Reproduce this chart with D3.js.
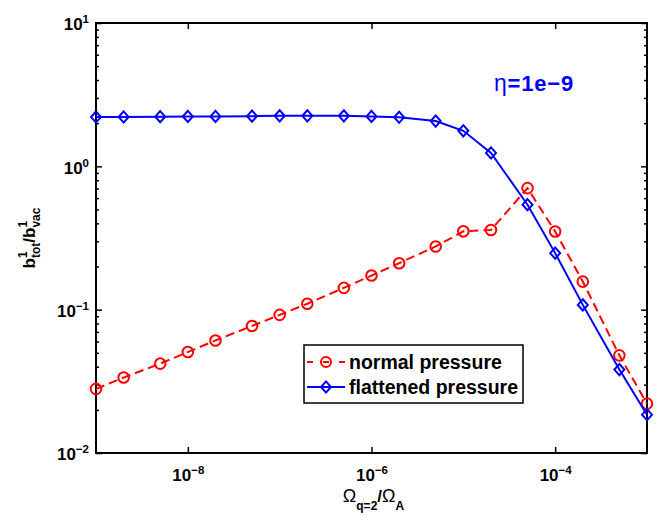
<!DOCTYPE html>
<html>
<head>
<meta charset="utf-8">
<script src="https://cdn.jsdelivr.net/npm/d3@7"></script>
<style>
  body { margin: 0; background: #fff; }
  text { font-family: "Liberation Sans", Arial, Helvetica, sans-serif; font-weight: bold; }
</style>
</head>
<body>
<div id="chart"></div>
<script>
  'use strict';

  //Data
  let omegaRatio = [1e-9, 2e-9, 5e-9, 1e-8, 2e-8, 5e-8, 1e-7, 2e-7, 5e-7, 1e-6,
                    2e-6, 5e-6, 1e-5, 2e-5, 5e-5, 1e-4, 2e-4, 5e-4, 1e-3];
  let normalPressure = [0.028, 0.0336, 0.042, 0.0506, 0.061, 0.077, 0.092, 0.110, 0.142, 0.173,
                        0.211, 0.276, 0.352, 0.360, 0.705, 0.351, 0.157, 0.048, 0.0221];
  let flattenedPressure = [2.21, 2.21, 2.22, 2.23, 2.23, 2.24, 2.25, 2.25, 2.25, 2.23,
                           2.20, 2.07, 1.77, 1.24, 0.54, 0.248, 0.108, 0.0382, 0.0185];
  let seriesNames = ["normal pressure", "flattened pressure"];
  let xMajorTicks = [1e-8, 1e-6, 1e-4];
  let yMajorTicks = [1e-2, 1e-1, 1e0, 1e1];
  let xDomain = [1e-9, 1e-3];
  let yDomain = [1e-2, 1e1];
  let annotation = "1e\u22129";

  //Dimensions
  let width = 668, height = 515;
  let plot = {left: 96, right: 647, top: 23, bottom: 453};

  let svg = d3.select("#chart").append("svg")
    .attr("width", width)
    .attr("height", height);

  let x = d3.scaleLog().domain(xDomain).range([plot.left, plot.right]);
  let y = d3.scaleLog().domain(yDomain).range([plot.bottom, plot.top]);

  //Minor ticks on y (2..9 for each decade)
  let yMinorTicks = [];
  for (let e = -2; e < 1; e++) {
    for (let m = 2; m < 10; m++) yMinorTicks.push(m * Math.pow(10, e));
  }

  //Axes - ticks point inward
  function drawAxis(axis, tx, ty) {
    let g = svg.append("g")
      .attr("transform", "translate(" + tx + "," + ty + ")")
      .call(axis);
    g.select(".domain").remove();
    g.selectAll(".tick line").attr("stroke", "#000").attr("stroke-width", 1.5);
    return g;
  }

  let xBottom = drawAxis(d3.axisBottom(x).tickValues(xMajorTicks).tickSize(-6).tickPadding(8), 0, plot.bottom);
  drawAxis(d3.axisTop(x).tickValues(xMajorTicks).tickSize(-6).tickFormat(""), 0, plot.top);
  let yLeft = drawAxis(d3.axisLeft(y).tickValues(yMajorTicks).tickSize(-6).tickPadding(7), plot.left, 0);
  drawAxis(d3.axisRight(y).tickValues(yMajorTicks).tickSize(-6).tickFormat(""), plot.right, 0);
  drawAxis(d3.axisLeft(y).tickValues(yMinorTicks).tickSize(-3).tickFormat(""), plot.left, 0);
  drawAxis(d3.axisRight(y).tickValues(yMinorTicks).tickSize(-3).tickFormat(""), plot.right, 0);

  //Tick labels as 10^n
  function powerLabel(sel) {
    sel.each(function(d) {
      let t = d3.select(this);
      let exp = Math.round(Math.log10(d));
      t.text("").attr("fill", "#000").style("font-size", "17px");
      t.append("tspan").text("10");
      t.append("tspan").text(String(exp).replace("-", "\u2212"))
        .attr("dy", "-0.6em").style("font-size", "11.5px");
    });
  }
  xBottom.selectAll(".tick text").call(powerLabel).attr("dy", "1.15em").attr("text-anchor", "middle");
  yLeft.selectAll(".tick text").call(powerLabel).attr("dy", "0.4em");

  //Plot box
  svg.append("rect")
    .attr("x", plot.left).attr("y", plot.top)
    .attr("width", plot.right - plot.left).attr("height", plot.bottom - plot.top)
    .attr("fill", "none").attr("stroke", "#000").attr("stroke-width", 2);

  //Series
  let line = d3.line()
    .x(function(d) { return x(d[0]); })
    .y(function(d) { return y(d[1]); });

  let redData = d3.zip(omegaRatio, normalPressure);
  let blueData = d3.zip(omegaRatio, flattenedPressure);

  let diamond = function(w, h) { return "M0," + (-h) + "L" + w + ",0L0," + h + "L" + (-w) + ",0Z"; };

  function drawCircles(g, data) {
    g.selectAll("circle.m").data(data).enter().append("circle")
      .attr("class", "m")
      .attr("cx", function(d) { return x(d[0]); })
      .attr("cy", function(d) { return y(d[1]); })
      .attr("r", 5.3)
      .attr("fill", "none").attr("stroke", "#ff0000").attr("stroke-width", 2);
  }
  function drawDiamonds(g, data) {
    g.selectAll("path.m").data(data).enter().append("path")
      .attr("class", "m")
      .attr("d", diamond(5, 5.6))
      .attr("transform", function(d) { return "translate(" + x(d[0]) + "," + y(d[1]) + ")"; })
      .attr("fill", "none").attr("stroke", "#0000ff").attr("stroke-width", 2);
  }

  let red = svg.append("g");
  red.append("path").datum(redData)
    .attr("d", line).attr("fill", "none")
    .attr("stroke", "#ff0000").attr("stroke-width", 2).attr("stroke-dasharray", "9,5");
  drawCircles(red, redData);

  let blue = svg.append("g");
  blue.append("path").datum(blueData)
    .attr("d", line).attr("fill", "none")
    .attr("stroke", "#0000ff").attr("stroke-width", 2);
  drawDiamonds(blue, blueData);

  //Annotation eta=1e-9
  let ann = svg.append("text")
    .attr("x", 494).attr("y", 91)
    .attr("fill", "#0000ff").style("font-size", "22px").style("letter-spacing", "0.8px");
  ann.append("tspan").text("\u03b7").style("font-weight", "normal").style("font-size", "23px");
  ann.append("tspan").text("=" + annotation);

  //Legend
  let legend = svg.append("g").attr("transform", "translate(304,345)");
  legend.append("rect")
    .attr("width", 219).attr("height", 58)
    .attr("fill", "#fff").attr("stroke", "#000").attr("stroke-width", 1.5);

  let rows = [
    {name: seriesNames[0], color: "#ff0000", dash: "6,10", marker: "circle", y: 17},
    {name: seriesNames[1], color: "#0000ff", dash: null, marker: "diamond", y: 42}
  ];
  rows.forEach(function(r) {
    legend.append("line")
      .attr("x1", 3).attr("x2", 41).attr("y1", r.y).attr("y2", r.y)
      .attr("stroke", r.color).attr("stroke-width", 2)
      .attr("stroke-dasharray", r.dash);
    if (r.marker === "circle") {
      legend.append("circle").attr("cx", 22).attr("cy", r.y).attr("r", 5)
        .attr("fill", "none").attr("stroke", r.color).attr("stroke-width", 2);
    } else {
      legend.append("path").attr("d", diamond(5, 5.6))
        .attr("transform", "translate(22," + r.y + ")")
        .attr("fill", "none").attr("stroke", r.color).attr("stroke-width", 2);
    }
    legend.append("text")
      .attr("x", 45).attr("y", r.y + 6.5)
      .style("font-size", "19.5px").attr("fill", "#000")
      .text(r.name);
  });

  //Y axis label: b^1_tot / b^1_vac (stacked super/subscripts)
  let yLab = svg.append("g");
  function stacked(g, xPos, base, sup, sub) {
    let t = g.append("text").attr("x", xPos).attr("y", 0).style("font-size", "17px").text(base);
    let w = t.node().getComputedTextLength();
    let s1 = g.append("text").attr("x", xPos + w).attr("y", -8).style("font-size", "12px").text(sup);
    let s2 = g.append("text").attr("x", xPos + w).attr("y", 5).style("font-size", "12px").text(sub);
    return xPos + w + Math.max(s1.node().getComputedTextLength(), s2.node().getComputedTextLength());
  }
  let cx = stacked(yLab, 0, "b", "1", "tot");
  cx = stacked(yLab, cx, "/b", "1", "vac");
  yLab.attr("transform", "translate(35," + (238 + cx / 2) + ") rotate(-90)");

  //X axis label: Omega_{q=2} / Omega_A
  let xLab = svg.append("g");
  let parts = [
    {t: "\u03a9", size: 18, dy: 0, normal: true},
    {t: "q=2", size: 12, dy: 8},
    {t: "/", size: 17, dy: 0},
    {t: "\u03a9", size: 18, dy: 0, normal: true},
    {t: "A", size: 12, dy: 8}
  ];
  let px = 0;
  parts.forEach(function(p) {
    let t = xLab.append("text").attr("x", px).attr("y", p.dy)
      .style("font-size", p.size + "px").text(p.t);
    if (p.normal) t.style("font-weight", "normal");
    px += t.node().getComputedTextLength();
  });
  xLab.attr("transform", "translate(" + ((plot.left + plot.right) / 2 + 2 - px / 2) + ",502)");
</script>
</body>
</html>
